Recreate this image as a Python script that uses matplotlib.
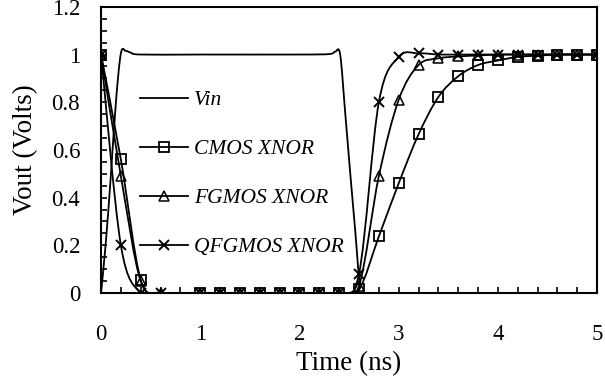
import numpy as np
import matplotlib
matplotlib.use('Agg')
from matplotlib import pyplot as plt
from matplotlib.path import Path
from matplotlib.patches import PathPatch
from matplotlib.lines import Line2D

plt.rcParams['font.family'] = ['Liberation Serif', 'DejaVu Serif']

# time grid of the simulated outputs (ns)
t = [0, 0.2, 0.4, 0.6, 0.8, 1.0, 1.2, 1.4, 1.6, 1.8, 2.0, 2.2, 2.4, 2.6,
     2.8, 3.0, 3.2, 3.4, 3.6, 3.8, 4.0, 4.2, 4.4, 4.6, 4.8, 5.0]
cmos = [1.0, 0.56, 0.055, 0.0, 0.0, 0.0, 0.0, 0.0, 0.0, 0.0, 0.0, 0.0, 0.0, 0.015,
        0.237, 0.46, 0.665, 0.822, 0.909, 0.956, 0.975, 0.99, 0.995, 1.0, 1.0, 1.0]
fgmos = [1.0, 0.49, 0.05, 0.0, 0.0, 0.0, 0.0, 0.0, 0.0, 0.0, 0.0, 0.0, 0.0, 0.03,
         0.49, 0.81, 0.956, 0.984, 0.992, 0.996, 1.0, 1.0, 1.0, 1.0, 1.0, 1.0]
qfgmos = [1.0, 0.2, 0.0, 0.0, 0.0, 0.0, 0.0, 0.0, 0.0, 0.0, 0.0, 0.0, 0.0, 0.08,
          0.80, 0.99, 1.005, 1.0, 1.0, 1.0, 1.0, 1.0, 1.0, 1.0, 1.0, 1.0]

# input waveform (no markers)
t_vin = [0, 0.05, 0.1, 0.15, 0.2, 0.25, 0.3, 0.4, 1.0, 2.0, 2.3, 2.36, 2.41,
         2.46, 2.51, 2.56, 2.61, 2.66, 5.0]
vin = [0.0, 0.22, 0.5, 0.8, 1.005, 1.015, 1.008, 1.0, 1.0, 1.0, 1.002, 1.012, 1.0,
       0.76, 0.51, 0.27, 0.03, 0.0, 0.0]

labels = ['Vin', 'CMOS XNOR', 'FGMOS XNOR', 'QFGMOS XNOR']


def smooth_path(x, y):
    # excel style smoothed line: cubic bezier, catmull-rom tangents
    x = np.asarray(x, float)
    y = np.asarray(y, float)
    p = np.column_stack([x, y])
    verts = [p[0]]
    codes = [Path.MOVETO]
    n = len(p)
    for i in range(n - 1):
        p0 = p[i - 1] if i > 0 else p[i]
        p3 = p[i + 2] if i + 2 < n else p[i + 1]
        c1 = p[i] + (p[i + 1] - p0) / 6.0
        c2 = p[i + 1] - (p3 - p[i]) / 6.0
        verts += [c1, c2, p[i + 1]]
        codes += [Path.CURVE4] * 3
    return Path(verts, codes)


fig = plt.figure(figsize=(6.05, 3.8), dpi=100)
ax = fig.add_axes([0.167, 0.229, 0.82, 0.753])

lw = 1.3
for xs, ys in [(t_vin, vin), (t, cmos), (t, fgmos), (t, qfgmos)]:
    ax.add_patch(PathPatch(smooth_path(xs, ys), fill=False, lw=lw, color='black'))

ms = 6.5
keep = [i for i in range(len(t)) if t[i] != 0.8]
keep_c = [i for i in keep if t[i] != 0.6]
ax.plot(t, cmos, ls='none', marker='s', ms=ms, mfc='none', mec='black', mew=1.3,
        markevery=keep_c)
ax.plot(t, fgmos, ls='none', marker='^', ms=ms, mfc='none', mec='black', mew=1.1,
        markevery=keep)
ax.plot(t, qfgmos, ls='none', marker='x', ms=ms, mec='black', mew=1.4,
        markevery=keep)

ax.set_xlim(0, 5)
ax.set_ylim(0, 1.2)
ax.set_xticks(np.arange(0, 5.1, 1))
ax.set_xticks(np.arange(0, 5.01, 0.2), minor=True)
ax.set_yticks(np.arange(0, 1.21, 0.2))
ax.set_yticks(np.arange(0, 1.201, 0.05), minor=True)
ax.set_xticklabels(['0', '1', '2', '3', '4', '5'])
ax.set_yticklabels(['0', '0.2', '0.4', '0.6', '0.8', '1', '1.2'])
ax.tick_params(which='both', direction='in', length=4, width=1.2, labelsize=16.5,
               top=False, right=False)
ax.tick_params(axis='x', which='both', pad=22)
ax.tick_params(axis='y', which='both', pad=15)
for s in ax.spines.values():
    s.set_linewidth(1.5)

ax.set_xlabel('Time (ns)', fontsize=19.5, labelpad=5)
ax.set_ylabel('Vout (Volts)', fontsize=19.5, labelpad=10)

handles = [
    Line2D([], [], color='black', lw=lw),
    Line2D([], [], color='black', lw=lw, marker='s', ms=ms, mfc='none', mew=1.3),
    Line2D([], [], color='black', lw=lw, marker='^', ms=ms, mfc='none', mew=1.1),
    Line2D([], [], color='black', lw=lw, marker='x', ms=ms, mew=1.4),
]
leg = ax.legend(handles, labels, loc='upper left', bbox_to_anchor=(0.04, 0.777),
                frameon=False, handlelength=2.2, handletextpad=0.28, labelspacing=1.35,
                prop={'style': 'italic', 'size': 15.5, 'family': 'Liberation Serif'})

fig.savefig('out.png', dpi=100)
